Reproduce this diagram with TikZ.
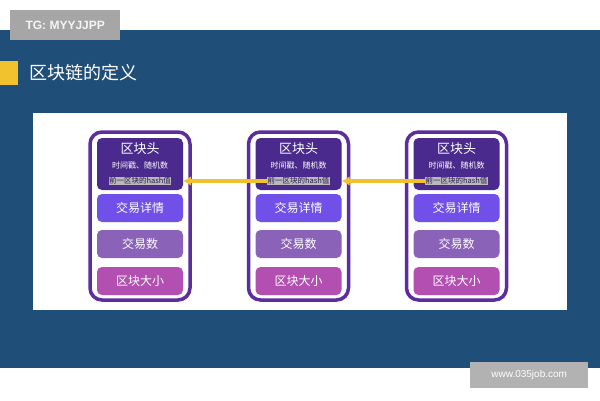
\documentclass[tikz,border=0pt]{standalone}
\usepackage{fontspec}
\newfontfamily\cjk{Noto Sans CJK SC}
\setmainfont{Liberation Sans}
\definecolor{bgblue}{HTML}{1F4E78}
\definecolor{outerp}{HTML}{5B2D9E}
\definecolor{headp}{HTML}{4A2A8C}
\definecolor{row1}{HTML}{7050E8}
\definecolor{row2}{HTML}{8A62B8}
\definecolor{row3}{HTML}{B24FB0}
\definecolor{ylw}{HTML}{F2C12E}
\tikzset{
 outerbox/.style={draw=outerp,line width=3.5pt,fill=white,rounded corners=12pt,minimum width=100pt,minimum height=168pt},
 headbox/.style={fill=headp,rounded corners=5pt,minimum width=86pt,minimum height=52pt},
 rowbox/.style={rounded corners=5pt,minimum width=86pt,minimum height=28pt,text=white,font=\cjk\fontsize{12}{13}\selectfont},
 hashlbl/.style={fill=gray!55,inner sep=0.5pt,font=\cjk\fontsize{7.5}{8}\selectfont,text=headp!60!black},
 arr/.style={draw=ylw,line width=3.5pt,-{Latex[length=8pt,width=10pt]}},
}
\usetikzlibrary{arrows.meta}
\begin{document}
\begin{tikzpicture}[x=1pt,y=-1pt]
\useasboundingbox (0,0) rectangle (600,400);
\fill[white] (0,0) rectangle (600,400);
\fill[bgblue] (0,30) rectangle (600,368);
\node[fill=gray!70,minimum width=110pt,minimum height=30pt,anchor=north west,text=white!92!gray,font=\fontsize{12}{14}\selectfont\bfseries] (wm) at (10,10) {TG: MYYJJPP};
\fill[ylw] (0,61) rectangle (18,85);
\node[anchor=west,text=white,font=\cjk\fontsize{18}{20}\selectfont] (title) at (26,73) {区块链的定义};
\fill[white] (33,113) rectangle (567,310);
\foreach \i/\cx in {1/140,2/298.5,3/456.5}{
 \node[outerbox] (o\i) at (\cx,216) {};
 \node[headbox] (h\i) at (\cx,164) {};
 \node[text=white,font=\cjk\fontsize{13}{14}\selectfont] (t\i) at (\cx,149) {区块头};
 \node[text=white,font=\cjk\fontsize{8}{9}\selectfont] (s\i) at (\cx,165) {时间戳、随机数};
 \node[hashlbl] (hh\i) at (\cx,181) {前一区块的hash值};
 \node[rowbox,fill=row1] (r1\i) at (\cx,208) {交易详情};
 \node[rowbox,fill=row2] (r2\i) at (\cx,244) {交易数};
 \node[rowbox,fill=row3] (r3\i) at (\cx,281) {区块大小};
}
\draw[arr] (hh2.west) -- (h1.east |- hh1);
\draw[arr] (hh3.west) -- (h2.east |- hh2);
\node[fill=gray!60,minimum width=118pt,minimum height=26pt,anchor=north west,text=white,font=\fontsize{10}{12}\selectfont] (wm2) at (470,362) {www.035job.com};
\end{tikzpicture}
\end{document}
